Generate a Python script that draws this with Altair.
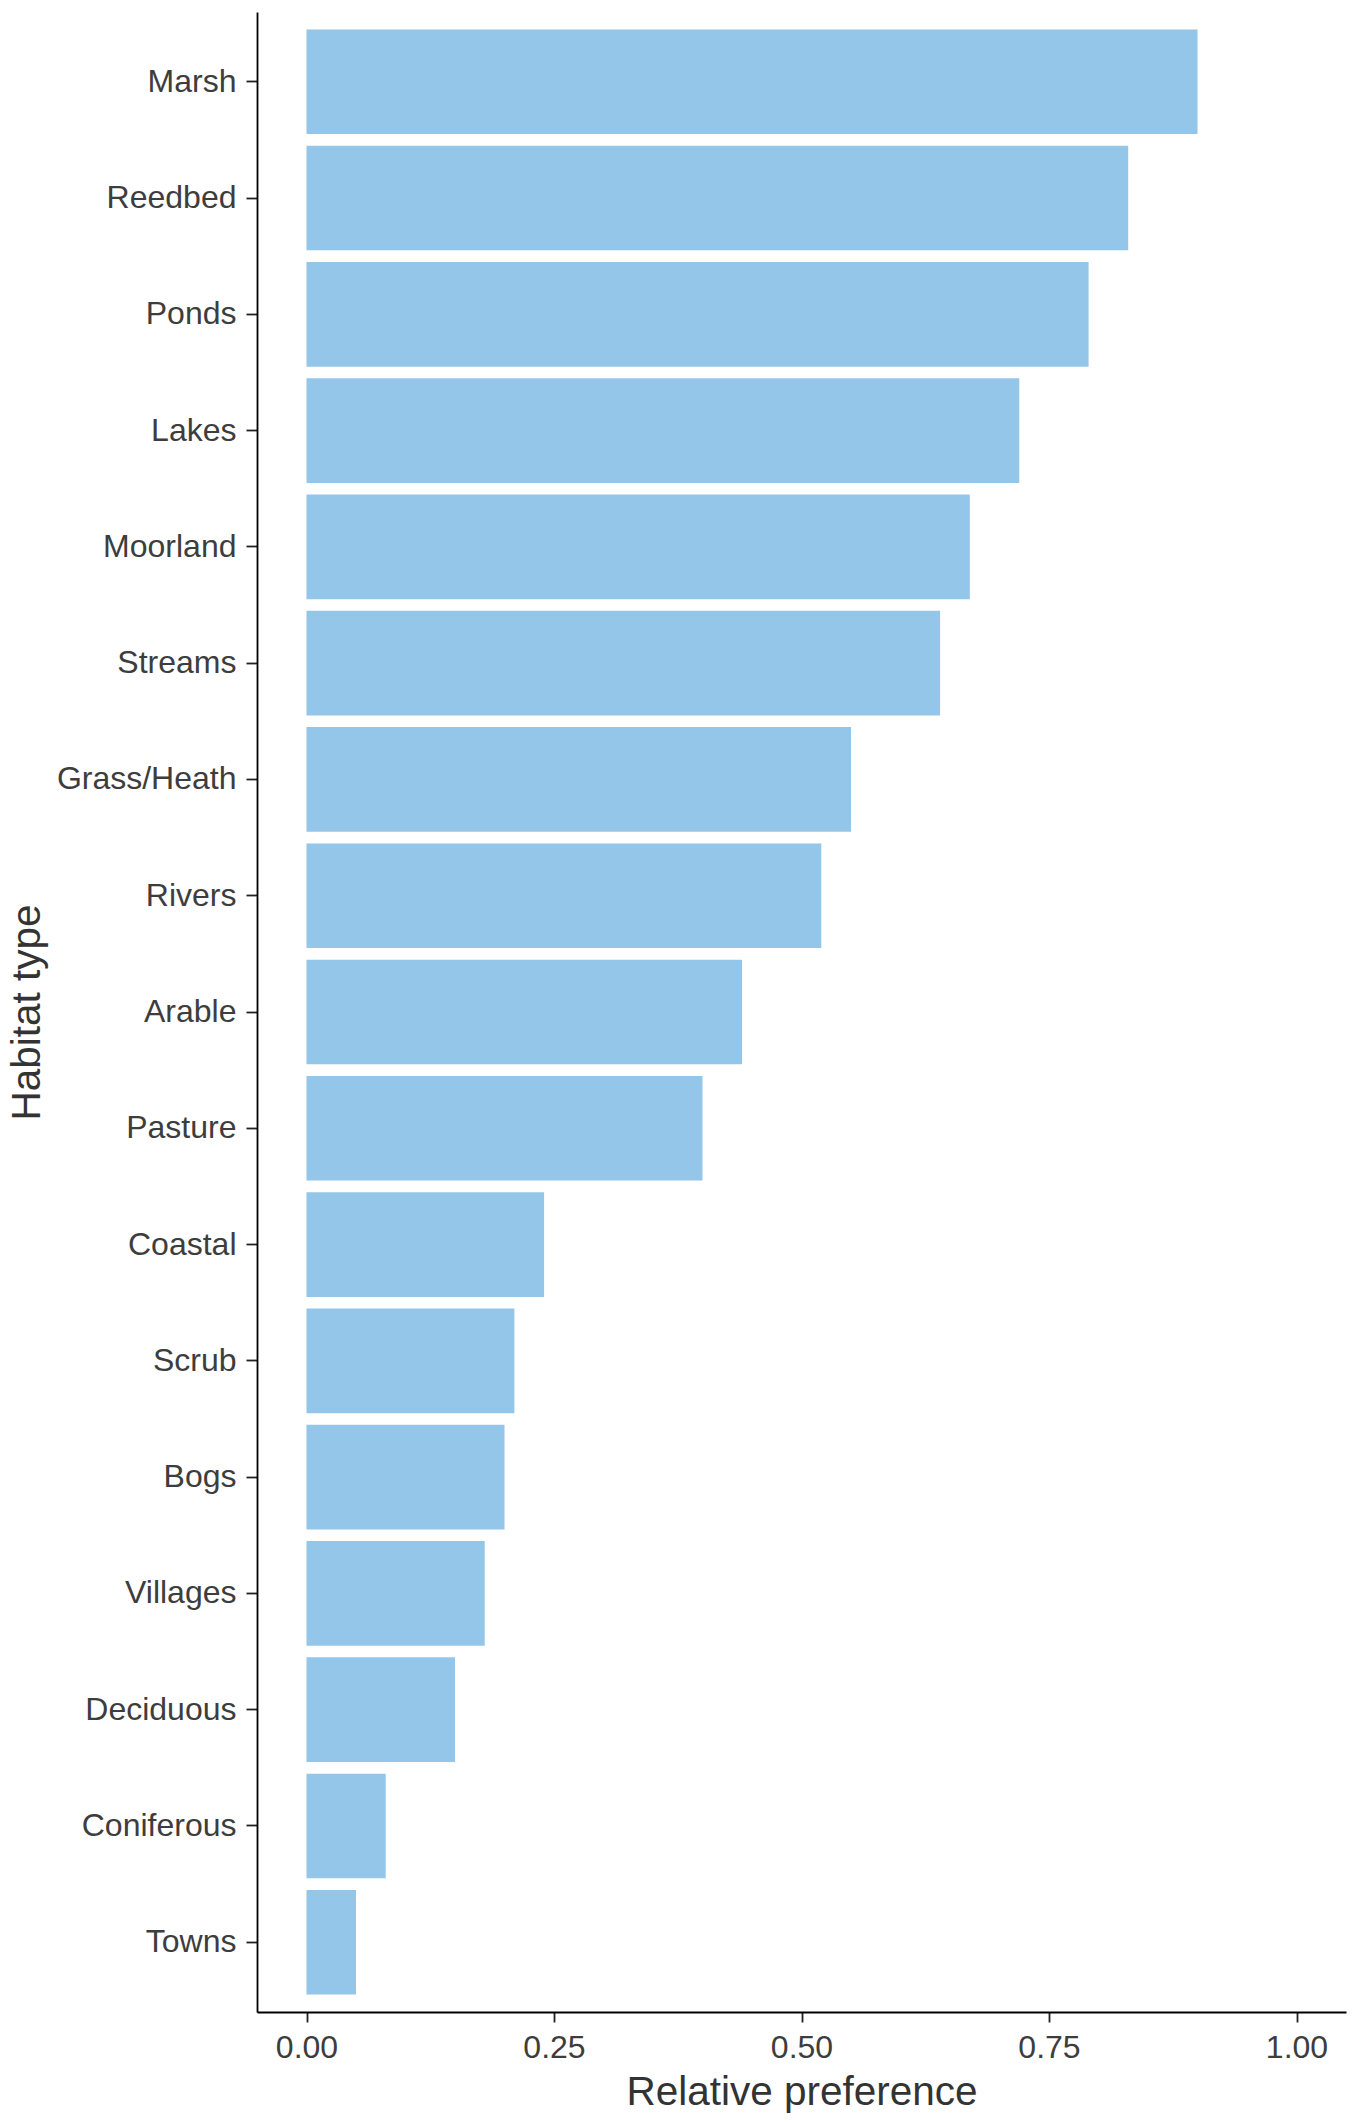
import altair as alt
import pandas as pd

habitats = ["Marsh", "Reedbed", "Ponds", "Lakes", "Moorland", "Streams",
            "Grass/Heath", "Rivers", "Arable", "Pasture", "Coastal", "Scrub",
            "Bogs", "Villages", "Deciduous", "Coniferous", "Towns"]
preference = [0.90, 0.83, 0.79, 0.72, 0.67, 0.64, 0.55, 0.52, 0.44, 0.40,
              0.24, 0.21, 0.20, 0.18, 0.15, 0.08, 0.05]
x_ticks = [0.0, 0.25, 0.5, 0.75, 1.0]

df = pd.DataFrame({"habitat": habitats, "preference": preference})

FONT = "Liberation Sans"

chart = alt.Chart(df).mark_bar(color="#93C6E8").encode(
    x=alt.X("preference:Q",
            title="Relative preference",
            scale=alt.Scale(domain=[-0.05, 1.05], nice=False, zero=False),
            axis=alt.Axis(values=x_ticks, format=".2f", grid=False,
                          tickSize=10, labelPadding=35, labelBaseline="alphabetic",
                          titleY=92, titleBaseline="alphabetic")),
    y=alt.Y("habitat:N", sort=habitats, title="Habitat type",
            scale=alt.Scale(paddingInner=0.1, paddingOuter=0.15),
            axis=alt.Axis(grid=False, tickSize=11, labelPadding=10,
                          titleX=-218, titleBaseline="alphabetic")),
).properties(
    width=1089,
    height=2000,
    autosize=alt.AutoSizeParams(type="none"),
    padding={"left": 249, "top": 4, "right": 4, "bottom": 104},
).configure_view(
    stroke=None
).configure_axis(
    domainColor="black",
    domainWidth=1.8,
    tickColor="#222222",
    tickWidth=1.8,
    labelFont=FONT,
    labelFontSize=32,
    labelColor="#3d3d3d",
    titleFont=FONT,
    titleFontSize=40.5,
    titleFontWeight="normal",
    titleColor="#333333",
)

chart.save("out.html", embed_options={"renderer": "svg", "actions": False})
